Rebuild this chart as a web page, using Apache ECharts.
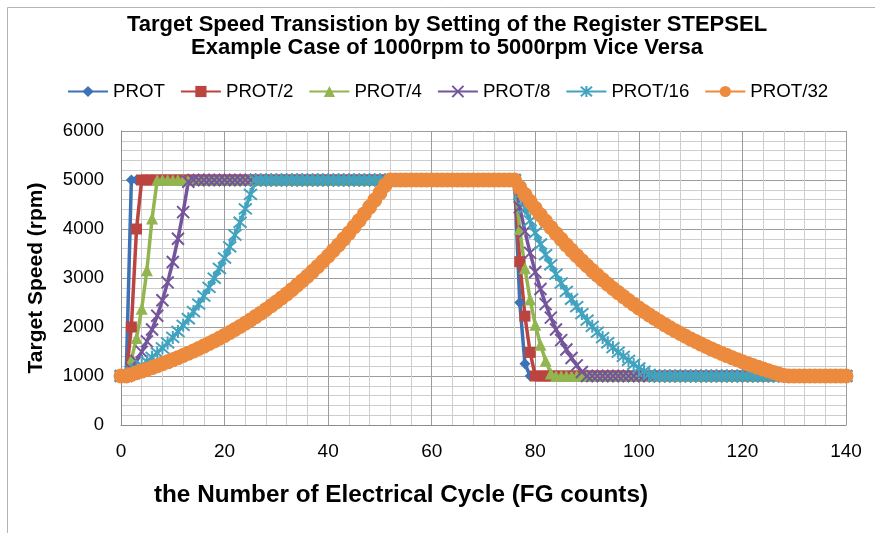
<!DOCTYPE html>
<html><head><meta charset="utf-8">
<script src="https://cdn.jsdelivr.net/npm/echarts@6/dist/echarts.min.js"></script>
<style>html,body{margin:0;padding:0;background:#fff}#c{width:875px;height:533px}</style>
</head><body><div id="c"></div>
<script>
const xCycles = [
0,1,2,3,4,5,6,7,8,9,
10,11,12,13,14,15,16,17,18,19,
20,21,22,23,24,25,26,27,28,29,
30,31,32,33,34,35,36,37,38,39,
40,41,42,43,44,45,46,47,48,49,
50,51,52,53,54,55,56,57,58,59,
60,61,62,63,64,65,66,67,68,69,
70,71,72,73,74,75,76,77,78,79,
80,81,82,83,84,85,86,87,88,89,
90,91,92,93,94,95,96,97,98,99,
100,101,102,103,104,105,106,107,108,109,
110,111,112,113,114,115,116,117,118,119,
120,121,122,123,124,125,126,127,128,129,
130,131,132,133,134,135,136,137,138,139,
140];

const prot = [
1000,1000,5000,5000,5000,5000,5000,5000,5000,5000,
5000,5000,5000,5000,5000,5000,5000,5000,5000,5000,
5000,5000,5000,5000,5000,5000,5000,5000,5000,5000,
5000,5000,5000,5000,5000,5000,5000,5000,5000,5000,
5000,5000,5000,5000,5000,5000,5000,5000,5000,5000,
5000,5000,5000,5000,5000,5000,5000,5000,5000,5000,
5000,5000,5000,5000,5000,5000,5000,5000,5000,5000,
5000,5000,5000,5000,5000,5000,5000,2500,1250,1000,
1000,1000,1000,1000,1000,1000,1000,1000,1000,1000,
1000,1000,1000,1000,1000,1000,1000,1000,1000,1000,
1000,1000,1000,1000,1000,1000,1000,1000,1000,1000,
1000,1000,1000,1000,1000,1000,1000,1000,1000,1000,
1000,1000,1000,1000,1000,1000,1000,1000,1000,1000,
1000,1000,1000,1000,1000,1000,1000,1000,1000,1000,
1000];

const prot2 = [
1000,1000,2000,4000,5000,5000,5000,5000,5000,5000,
5000,5000,5000,5000,5000,5000,5000,5000,5000,5000,
5000,5000,5000,5000,5000,5000,5000,5000,5000,5000,
5000,5000,5000,5000,5000,5000,5000,5000,5000,5000,
5000,5000,5000,5000,5000,5000,5000,5000,5000,5000,
5000,5000,5000,5000,5000,5000,5000,5000,5000,5000,
5000,5000,5000,5000,5000,5000,5000,5000,5000,5000,
5000,5000,5000,5000,5000,5000,5000,3333,2222,1481,
1000,1000,1000,1000,1000,1000,1000,1000,1000,1000,
1000,1000,1000,1000,1000,1000,1000,1000,1000,1000,
1000,1000,1000,1000,1000,1000,1000,1000,1000,1000,
1000,1000,1000,1000,1000,1000,1000,1000,1000,1000,
1000,1000,1000,1000,1000,1000,1000,1000,1000,1000,
1000,1000,1000,1000,1000,1000,1000,1000,1000,1000,
1000];

const prot4 = [
1000,1000,1333,1778,2370,3160,4214,5000,5000,5000,
5000,5000,5000,5000,5000,5000,5000,5000,5000,5000,
5000,5000,5000,5000,5000,5000,5000,5000,5000,5000,
5000,5000,5000,5000,5000,5000,5000,5000,5000,5000,
5000,5000,5000,5000,5000,5000,5000,5000,5000,5000,
5000,5000,5000,5000,5000,5000,5000,5000,5000,5000,
5000,5000,5000,5000,5000,5000,5000,5000,5000,5000,
5000,5000,5000,5000,5000,5000,5000,4000,3200,2560,
2048,1638,1311,1049,1000,1000,1000,1000,1000,1000,
1000,1000,1000,1000,1000,1000,1000,1000,1000,1000,
1000,1000,1000,1000,1000,1000,1000,1000,1000,1000,
1000,1000,1000,1000,1000,1000,1000,1000,1000,1000,
1000,1000,1000,1000,1000,1000,1000,1000,1000,1000,
1000,1000,1000,1000,1000,1000,1000,1000,1000,1000,
1000];

const prot8 = [
1000,1000,1143,1306,1493,1706,1950,2228,2547,2910,
3326,3801,4344,4965,5000,5000,5000,5000,5000,5000,
5000,5000,5000,5000,5000,5000,5000,5000,5000,5000,
5000,5000,5000,5000,5000,5000,5000,5000,5000,5000,
5000,5000,5000,5000,5000,5000,5000,5000,5000,5000,
5000,5000,5000,5000,5000,5000,5000,5000,5000,5000,
5000,5000,5000,5000,5000,5000,5000,5000,5000,5000,
5000,5000,5000,5000,5000,5000,5000,4444,3951,3512,
3122,2775,2467,2192,1949,1732,1540,1369,1217,1081,
1000,1000,1000,1000,1000,1000,1000,1000,1000,1000,
1000,1000,1000,1000,1000,1000,1000,1000,1000,1000,
1000,1000,1000,1000,1000,1000,1000,1000,1000,1000,
1000,1000,1000,1000,1000,1000,1000,1000,1000,1000,
1000,1000,1000,1000,1000,1000,1000,1000,1000,1000,
1000];

const prot16 = [
1000,1000,1067,1138,1214,1295,1381,1473,1571,1676,
1788,1907,2034,2169,2314,2468,2633,2808,2996,3195,
3408,3636,3878,4137,4412,4706,5000,5000,5000,5000,
5000,5000,5000,5000,5000,5000,5000,5000,5000,5000,
5000,5000,5000,5000,5000,5000,5000,5000,5000,5000,
5000,5000,5000,5000,5000,5000,5000,5000,5000,5000,
5000,5000,5000,5000,5000,5000,5000,5000,5000,5000,
5000,5000,5000,5000,5000,5000,5000,4706,4429,4169,
3923,3693,3475,3271,3079,2898,2727,2567,2416,2274,
2140,2014,1896,1784,1679,1580,1487,1400,1318,1240,
1167,1098,1034,1000,1000,1000,1000,1000,1000,1000,
1000,1000,1000,1000,1000,1000,1000,1000,1000,1000,
1000,1000,1000,1000,1000,1000,1000,1000,1000,1000,
1000,1000,1000,1000,1000,1000,1000,1000,1000,1000,
1000];

const prot32 = [
1000,1000,1032,1066,1100,1135,1172,1210,1249,1289,
1331,1374,1418,1464,1511,1560,1610,1662,1716,1771,
1828,1887,1948,2011,2076,2142,2212,2283,2357,2433,
2511,2592,2676,2762,2851,2943,3038,3136,3237,3342,
3449,3561,3676,3794,3916,4043,4173,4308,4447,4590,
4738,4891,5000,5000,5000,5000,5000,5000,5000,5000,
5000,5000,5000,5000,5000,5000,5000,5000,5000,5000,
5000,5000,5000,5000,5000,5000,5000,4849,4702,4559,
4421,4287,4157,4031,3909,3791,3676,3564,3456,3352,
3250,3151,3056,2963,2874,2786,2702,2620,2541,2464,
2389,2317,2247,2178,2112,2048,1986,1926,1868,1811,
1756,1703,1651,1601,1553,1506,1460,1416,1373,1331,
1291,1252,1214,1177,1142,1107,1073,1041,1009,1000,
1000,1000,1000,1000,1000,1000,1000,1000,1000,1000,
1000];

const seriesNames = ['PROT','PROT/2','PROT/4','PROT/8','PROT/16','PROT/32'];
const seriesValues = [prot, prot2, prot4, prot8, prot16, prot32];
const colors = ['#3F72B4','#BC4440','#93B550','#74559C','#41A3BF','#EC8A3D'];
const symbols = ['diamond','rect','triangle','path://M0,0L10,10M10,0L0,10','path://M0,0L10,10M10,0L0,10M5,-1L5,11','circle'];
const symbolSizes = [11,11,12,12,13,15];
const lineWidths = [3.5,3.5,3.5,3.5,3.5,4];

const font = '"Liberation Sans", Arial, Helvetica, sans-serif';

const series = seriesNames.map((n, s) => {
  const isPath = symbols[s].startsWith('path://');
  return {
    name: n,
    type: 'line',
    data: xCycles.map((x, i) => [x, seriesValues[s][i]]),
    symbol: symbols[s],
    symbolSize: symbolSizes[s],
    showAllSymbol: true,
    lineStyle: { width: lineWidths[s], color: colors[s] },
    itemStyle: isPath
      ? { color: 'rgba(0,0,0,0)', borderColor: colors[s], borderWidth: 2 }
      : { color: colors[s], borderWidth: 0 },
    emphasis: { disabled: true },
    animation: false
  };
});

const chart = echarts.init(document.getElementById('c'), null, { renderer: 'canvas' });
chart.setOption({
  backgroundColor: '#fff',
  color: colors,
  legend: {
    left: 67,
    top: 82,
    padding: 0,
    itemWidth: 40,
    itemHeight: 14,
    itemGap: 15,
    textStyle: { fontFamily: font, fontSize: 18.7, color: '#000' },
    data: seriesNames
  },
  grid: { left: 121, top: 131, width: 725, height: 294, containLabel: false },
  xAxis: {
    type: 'value',
    min: 0, max: 140, interval: 20,
    axisLine: { show: true, lineStyle: { color: '#8c8c8c', width: 1 } },
    axisTick: { show: false },
    axisLabel: { fontFamily: font, fontSize: 19, color: '#000', margin: 17 },
    splitLine: { show: true, lineStyle: { color: '#9c9c9c', width: 1 } },
    minorTick: { show: false, splitNumber: 5 },
    minorSplitLine: { show: true, lineStyle: { color: '#cdcdcd', width: 1 } }
  },
  yAxis: {
    type: 'value',
    min: 0, max: 6000, interval: 1000,
    name: 'Target Speed (rpm)',
    nameLocation: 'middle',
    nameGap: 74,
    nameTextStyle: { fontFamily: font, fontWeight: 'bold', fontSize: 21, color: '#000' },
    axisLine: { show: true, lineStyle: { color: '#8c8c8c', width: 1 } },
    axisTick: { show: false },
    axisLabel: { fontFamily: font, fontSize: 18.5, color: '#000', margin: 17, formatter: v => String(v) },
    splitLine: { show: true, lineStyle: { color: '#9c9c9c', width: 1 } },
    minorTick: { show: false, splitNumber: 5 },
    minorSplitLine: { show: true, lineStyle: { color: '#cdcdcd', width: 1 } }
  },
  graphic: [
    { type: 'rect', silent: true, z: -10, shape: { x: 7.5, y: 7.5, width: 900, height: 540 },
      style: { fill: 'none', stroke: '#b4b4b4', lineWidth: 1 } },
    { type: 'text', silent: true, x: 447, y: 25,
      style: { text: 'Target Speed Transistion by Setting of the Register STEPSEL', fontFamily: font, fontWeight: 'bold', fontSize: 22,
               fill: '#000', align: 'center', verticalAlign: 'middle' } },
    { type: 'text', silent: true, x: 447, y: 48,
      style: { text: 'Example Case of 1000rpm to 5000rpm Vice Versa', fontFamily: font, fontWeight: 'bold', fontSize: 22,
               fill: '#000', align: 'center', verticalAlign: 'middle' } },
    { type: 'text', silent: true, x: 401, y: 495,
      style: { text: 'the Number of Electrical Cycle (FG counts)', fontFamily: font, fontWeight: 'bold', fontSize: 24.3,
               fill: '#000', align: 'center', verticalAlign: 'middle' } }
  ],
  series: series
});
</script>
</body></html>
